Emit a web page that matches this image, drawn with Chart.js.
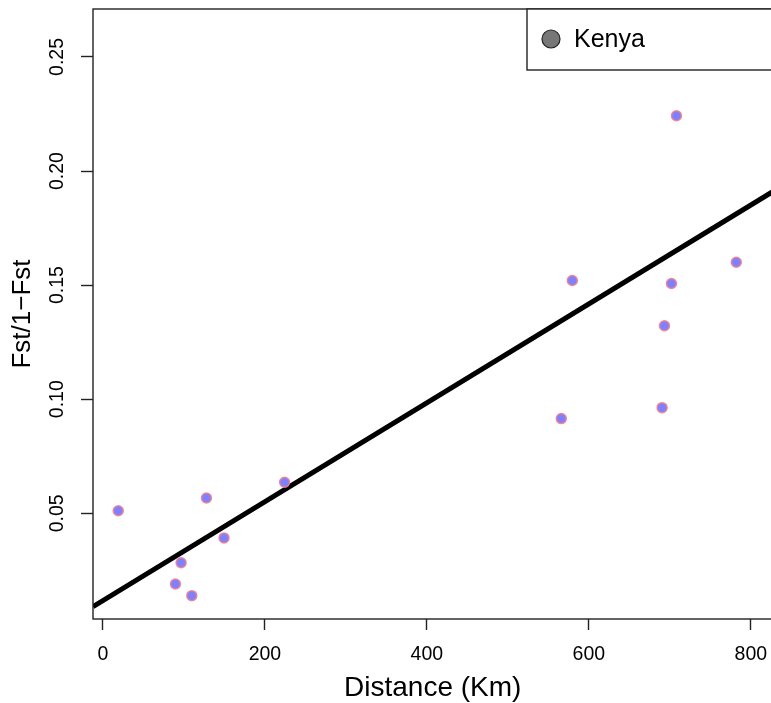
<!DOCTYPE html>
<html>
<head>
<meta charset="utf-8">
<script src="https://cdn.jsdelivr.net/npm/chart.js@4/dist/chart.umd.min.js"></script>
<style>
  html, body { margin: 0; padding: 0; background: #fff; overflow: hidden; }
  #wrap { width: 771px; height: 703px; overflow: hidden; }
  canvas { display: block; }
</style>
</head>
<body>
<div id="wrap">
  <canvas id="ibdChart" width="779" height="703"></canvas>
</div>
<script>
// Isolation by distance, Kenya populations
const distanceKm = [18.9, 89.5, 96.5, 109.7, 127.8, 149.5, 224.3, 566, 579.6, 690.5, 693.4, 702, 708.2, 782.1];
const fstRatio = [0.0511, 0.0190, 0.0283, 0.0139, 0.0567, 0.0392, 0.0636, 0.0915, 0.1520, 0.0963, 0.1322, 0.1507, 0.2242, 0.1600];

// regression line, endpoints
const fitX = [-12.3, 830];
const fitY = [0.0091, 0.1916];

const xTicks = [0, 200, 400, 600, 800];
const yTicks = [0.05, 0.10, 0.15, 0.20, 0.25];
const legendLabel = 'Kenya';

const fontFamily = "'Liberation Sans', Arial, Helvetica, sans-serif";

// no extra room for label overhang, keep plot box where R put it
function noOverhang(scale) {
    scale.paddingLeft = 0;
    scale.paddingRight = 0;
    scale.paddingTop = 0;
    scale.paddingBottom = 0;
}

// box round the plot + R style legend
const boxPlugin = {
    id: 'rBox',
    afterDraw(chart) {
        const { ctx, chartArea } = chart;
        ctx.save();
        ctx.strokeStyle = '#222';
        ctx.lineWidth = 1.4;
        ctx.strokeRect(chartArea.left, chartArea.top, chartArea.right - chartArea.left, chartArea.bottom - chartArea.top);

        // legend
        const lx = 527, ly = chartArea.top, lh = 61;
        ctx.fillStyle = '#fff';
        ctx.fillRect(lx, ly, chartArea.right - lx + 5, lh);
        ctx.strokeRect(lx, ly, chartArea.right - lx + 5, lh);
        ctx.beginPath();
        ctx.arc(551, ly + 30, 9, 0, Math.PI * 2);
        ctx.fillStyle = '#777';
        ctx.fill();
        ctx.lineWidth = 1.2;
        ctx.strokeStyle = '#222';
        ctx.stroke();
        ctx.fillStyle = '#000';
        ctx.font = '25px ' + fontFamily;
        ctx.textBaseline = 'middle';
        ctx.textAlign = 'left';
        ctx.fillText(legendLabel, 574, ly + 31);
        ctx.restore();
    }
};

const ctx = document.getElementById('ibdChart').getContext('2d');
const ibdChart = new Chart(ctx, {
    type: 'scatter',
    data: {
        datasets: [{
            label: legendLabel,
            data: distanceKm.map((d, i) => ({ x: d, y: fstRatio[i] })),
            backgroundColor: 'rgb(128, 128, 255)',
            borderColor: 'rgba(240, 130, 140, 0.9)',
            borderWidth: 1.5,
            pointRadius: 5,
            pointHoverRadius: 5,
            order: 1
        }, {
            label: 'fit',
            data: fitX.map((d, i) => ({ x: d, y: fitY[i] })),
            showLine: true,
            borderColor: '#000',
            borderWidth: 5,
            pointRadius: 0,
            order: 2
        }]
    },
    options: {
        responsive: false,
        animation: false,
        events: [],
        layout: {
            padding: { top: 9, right: 1, bottom: 0, left: 0 }
        },
        plugins: {
            legend: { display: false },
            tooltip: { enabled: false }
        },
        scales: {
            x: {
                type: 'linear',
                min: -12.3,
                max: 826.8,
                afterBuildTicks: function(scale) {
                    scale.ticks = xTicks.map(v => ({ value: v }));
                },
                afterFit: function(scale) {
                    scale.height = 84;
                    noOverhang(scale);
                },
                border: { display: false },
                grid: {
                    drawOnChartArea: false,
                    drawTicks: true,
                    tickLength: 11,
                    tickColor: '#222',
                    tickWidth: 1.4
                },
                ticks: {
                    padding: 13,
                    color: '#000',
                    maxRotation: 0,
                    font: { family: fontFamily, size: 19.5 },
                    callback: function(value) {
                        return String(value);
                    }
                },
                title: {
                    display: true,
                    text: 'Distance (Km)',
                    color: '#000',
                    padding: { top: 0, bottom: -2 },
                    font: { family: fontFamily, size: 28 }
                }
            },
            y: {
                type: 'linear',
                min: 0.00367,
                max: 0.2710,
                afterBuildTicks: function(scale) {
                    scale.ticks = yTicks.map(v => ({ value: v }));
                },
                afterFit: function(scale) {
                    scale.width = 93;
                    noOverhang(scale);
                },
                border: { display: false },
                grid: {
                    drawOnChartArea: false,
                    drawTicks: true,
                    tickLength: 12,
                    tickColor: '#222',
                    tickWidth: 1.4
                },
                ticks: {
                    padding: 4.5,
                    color: '#000',
                    minRotation: 90,
                    maxRotation: 90,
                    crossAlign: 'center',
                    font: { family: fontFamily, size: 19.5 },
                    callback: function(value) {
                        return value.toFixed(2);
                    }
                },
                title: {
                    display: true,
                    text: 'Fst/1\u2212Fst',
                    color: '#000',
                    padding: { top: 7, bottom: 0 },
                    font: { family: fontFamily, size: 26 }
                }
            }
        }
    },
    plugins: [boxPlugin]
});
</script>
</body>
</html>
